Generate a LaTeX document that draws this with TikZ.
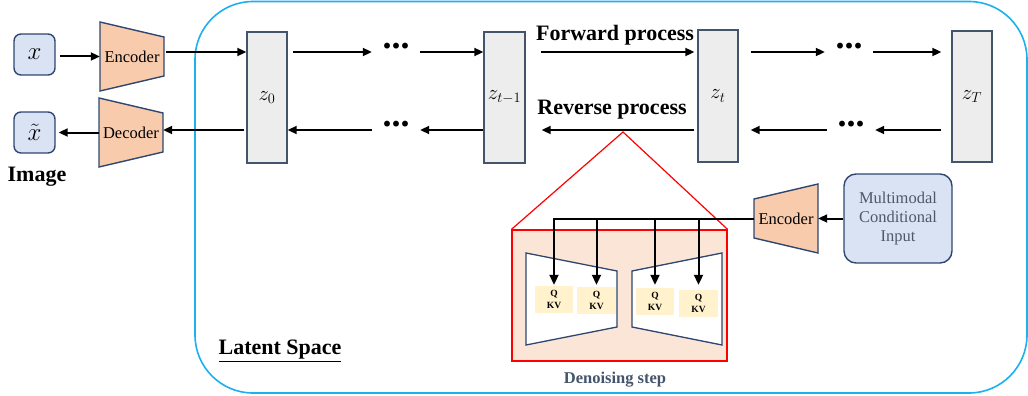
\documentclass[tikz,border=0pt]{standalone}
\usepackage{fontspec}
\setmainfont{Liberation Serif}
\usetikzlibrary{arrows.meta,calc}
\definecolor{encfill}{HTML}{F8CBAD}
\definecolor{navy}{HTML}{2F4670}
\definecolor{zfill}{HTML}{EDEDED}
\definecolor{zline}{HTML}{44546A}
\definecolor{bluefill}{HTML}{DAE3F3}
\definecolor{skyline}{HTML}{1CB0EE}
\definecolor{denfill}{HTML}{FBE5D6}
\definecolor{qfill}{HTML}{FFF2CC}
\definecolor{graytext}{HTML}{505868}
\definecolor{denlabel}{HTML}{44546A}
\tikzset{
  x=1pt, y=1pt,
  arr/.style={line width=2pt, -{Triangle[length=9pt,width=8pt]}},
  arrT/.style={line width=2pt, -{Triangle[length=10pt,width=9pt]}},
  zbox/.style={draw=zline, fill=zfill, line width=1.4pt, minimum width=40pt, minimum height=131pt, inner sep=0pt, font=\fontsize{20}{20}\selectfont},
  inbox/.style={draw=navy, fill=bluefill, line width=1.4pt, rounded corners=7pt, minimum width=41pt, minimum height=41pt, inner sep=0pt},
  trap/.style={draw=navy, fill=encfill, line width=1.4pt},
  traptext/.style={inner sep=0pt, minimum width=64pt, font=\fontsize{16.5}{18}\selectfont},
  dots/.style={minimum width=48pt, inner sep=0pt, font=\fontsize{36}{36}\selectfont\bfseries},
  qkv/.style={fill=qfill, minimum width=38pt, minimum height=27pt, inner sep=0pt, align=center, font=\fontsize{9.5}{11.5}\selectfont\bfseries},
  biglabel/.style={font=\fontsize{22}{24}\selectfont\bfseries, inner sep=0pt},
}
\begin{document}
\begin{tikzpicture}
\useasboundingbox (0,0) rectangle (1028,-396);
% latent space frame
\draw[skyline, line width=1.6pt, rounded corners=58pt] (195,-1.5) rectangle (1027,-393);

% inputs
\node[inbox] (xin) at (34.5,-54.5) {\fontsize{26}{26}\selectfont$x$};
\node[inbox] (xout) at (34.5,-132.5) {\fontsize{26}{26}\selectfont$\tilde{x}$};
\node[biglabel] (imglbl) at (37,-177) {Image};

% encoder / decoder
\draw[trap] (100,-22) -- (164,-37) -- (164,-76) -- (100,-91) -- cycle;
\node[traptext] (enc1) at (132,-56.5) {Encoder};
\draw[trap] (99,-98) -- (163,-113) -- (163,-152) -- (99,-167) -- cycle;
\node[traptext] (dec) at (131,-132.5) {Decoder};

% latent boxes
\node[zbox] (z0) at (267,-97.5) {$z_0$};
\node[zbox, minimum width=41pt] (zt1) at (504.5,-97.5) {$z_{t-1}$};
\node[zbox, minimum height=132pt] (zt) at (718,-96) {$z_t$};
\node[zbox] (zT) at (972,-96.5) {$z_T$};

\coordinate (top) at (0,-52);
\coordinate (bot) at (0,-130);

\node[dots] (d1) at (396,-46) {...};
\node[dots] (d2) at (396,-124) {...};
\node[dots] (d3) at (849,-46) {...};
\node[dots] (d4) at (851,-124) {...};

\node[biglabel] (fwd) at (615,-35) {Forward process};
\node[biglabel] (rev) at (612,-110) {Reverse process};

% encoder/decoder arrows
\draw[arr] ([xshift=4pt]xin.east |- enc1.west) -- (enc1.west);
\draw[arr] ([xshift=2pt]enc1.east |- top) -- (z0.west |- top);
\draw[arr] ([xshift=-2pt]z0.west |- bot) -- (dec.east |- bot);
\draw[arr] (dec.west) -- ([xshift=3pt]xout.east |- dec.west);

% forward chain
\draw[arr] ([xshift=5pt]z0.east |- top) -- (d1.west |- top);
\draw[arr] (d1.east |- top) -- (zt1.west |- top);
\draw[arr] ([xshift=15pt]zt1.east |- top) -- ([xshift=-3pt]zt.west |- top);
\draw[arr] ([xshift=12pt]zt.east |- top) -- (d3.west |- top);
\draw[arr] (d3.east |- top) -- ([xshift=-10pt]zT.west |- top);

% reverse chain
\draw[arr] ([xshift=-10pt]zT.west |- bot) -- (d4.east |- bot);
\draw[arr] (d4.west |- bot) -- ([xshift=12pt]zt.east |- bot);
\draw[arr] ([xshift=-3pt]zt.west |- bot) -- ([xshift=16pt]zt1.east |- bot);
\draw[arr] (zt1.west |- bot) -- (d2.east |- bot);
\draw[arr] (d2.west |- bot) -- (z0.east |- bot);

% denoising step
\coordinate (apex) at (623,-132);
\node[draw=red, fill=denfill, line width=1.2pt, minimum width=215pt, minimum height=131pt, inner sep=0pt] (den) at (619.5,-295.5) {};
\draw[red, line width=1.2pt] (den.north west) -- (apex) -- (den.north east);
\draw[draw=navy, fill=white, line width=1.3pt] (526,-253) -- (617,-271) -- (617,-327) -- (526,-345) -- cycle;
\draw[draw=navy, fill=white, line width=1.3pt] (632,-271) -- (722,-253) -- (722,-345) -- (632,-327) -- cycle;
\node[qkv] (q1) at (554,-299.5) {Q\\KV};
\node[qkv, minimum width=39pt] (q2) at (596.5,-300.5) {Q\\KV};
\node[qkv] (q3) at (655,-301.5) {Q\\KV};
\node[qkv, minimum width=39pt] (q4) at (698.5,-303.5) {Q\\KV};
\node[font=\fontsize{16.5}{18}\selectfont\bfseries, text=denlabel, inner sep=0pt] (denlbl) at (615,-380) {Denoising step};

% conditional encoder
\draw[trap] (754,-199) -- (818,-184) -- (818,-253) -- (754,-238) -- cycle;
\node[traptext] (enc2) at (786,-218.5) {Encoder};
\node[inbox, rounded corners=12pt, minimum width=108pt, minimum height=89pt, align=center, text=graytext, font=\fontsize{16.5}{19}\selectfont] (mm) at (898,-218.5) {Multimodal\\Conditional\\Input};
\draw[arr] (mm.west) -- (enc2.east);

\draw[arrT] (enc2.west) -| ([yshift=1pt]q1.north);
\draw[arrT] (q2.north |- enc2.west) -- ([yshift=2pt]q2.north);
\draw[arrT] (q3.north |- enc2.west) -- ([yshift=3pt]q3.north);
\draw[arrT] (q4.north |- enc2.west) -- ([yshift=5pt]q4.north);

% latent space label
\node[biglabel] (latlbl) at (280,-351) {\underline{Latent Space}};
\end{tikzpicture}
\end{document}
